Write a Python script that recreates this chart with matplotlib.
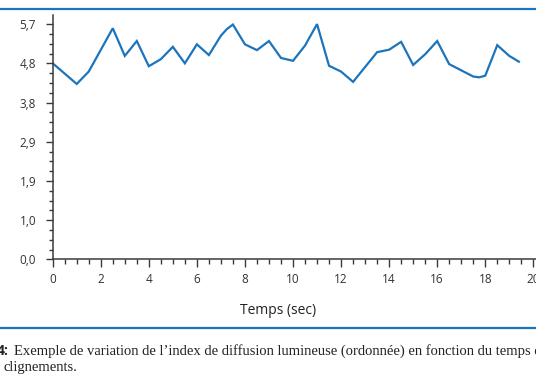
import matplotlib
matplotlib.use("Agg")
import matplotlib.pyplot as plt
from matplotlib.lines import Line2D
from matplotlib.ticker import FixedLocator, MultipleLocator

# Data
time_s = [0.0, 1.0, 1.5, 2.5, 3.0, 3.5, 4.0, 4.5, 5.0, 5.5, 6.0, 6.5, 7.0, 7.25, 7.5,
          8.0, 8.5, 9.0, 9.5, 10.0, 10.5, 11.0, 11.5, 12.0, 12.5, 13.5, 14.0, 14.5,
          15.0, 15.5, 16.0, 16.5, 17.5, 17.75, 18.0, 18.5, 19.0, 19.4]
index_values = [4.75, 4.25, 4.55, 5.60, 4.93, 5.29, 4.68, 4.85, 5.15, 4.75, 5.21, 4.95,
                5.42, 5.58, 5.69, 5.21, 5.07, 5.29, 4.88, 4.81, 5.18, 5.70, 4.69, 4.55,
                4.30, 5.02, 5.08, 5.27, 4.71, 4.97, 5.29, 4.73, 4.43, 4.41, 4.45, 5.19,
                4.93, 4.79]
y_ticks = [0.0, 0.95, 1.9, 2.85, 3.8, 4.75, 5.7]
y_tick_labels = ["0,0", "1,0", "1,9", "2,9", "3,8", "4,8", "5,7"]
x_ticks = [0, 2, 4, 6, 8, 10, 12, 14, 16, 18, 20]
x_tick_labels = ["0", "2", "4", "6", "8", "10", "12", "14", "16", "18", "20"]
x_label = "Temps (sec)"
caption_num = "4:"
caption_line1 = "Exemple de variation de l\u2019index de diffusion lumineuse (ordonnée) en fonction du temps et des"
caption_line2 = "clignements."

W, H = 536, 386
fig = plt.figure(figsize=(W / 100, H / 100), dpi=100)
fig.patch.set_facecolor("white")

blue = "#1c75bc"
dark = "#3a3a3a"
sans = ["Open Sans", "DejaVu Sans"]
serif = ["Liberation Serif", "DejaVu Serif"]

ax = fig.add_axes([52.7 / W, 1 - 259.3 / H, 1 - 52.7 / W, (259.3 - 15) / H])
ax.plot(time_s, index_values, color=blue, lw=1.6, solid_joinstyle="miter")
ax.set_xlim(0, (W - 52.7) / 24.03)
ax.set_ylim(0, (259.3 - 15) / 41.26)

for s in ["top", "right"]:
    ax.spines[s].set_visible(False)
for s in ["left", "bottom"]:
    ax.spines[s].set_color(dark)
    ax.spines[s].set_linewidth(1.1)

ax.yaxis.set_major_locator(FixedLocator(y_ticks))
ax.set_yticklabels(y_tick_labels)
ax.yaxis.set_minor_locator(MultipleLocator(0.95 / 4))
ax.xaxis.set_major_locator(FixedLocator(x_ticks))
ax.set_xticklabels(x_tick_labels)
ax.xaxis.set_minor_locator(MultipleLocator(0.5))

ax.tick_params(axis="y", which="major", length=5, width=1.0, color=dark, pad=7,
               labelsize=8.5, labelcolor="#333333")
ax.tick_params(axis="y", which="minor", length=3, width=1.0, color=dark)
ax.tick_params(axis="x", which="major", length=6, width=1.0, color=dark, pad=4,
               labelsize=8.5, labelcolor="#333333")
ax.tick_params(axis="x", which="minor", length=3.5, width=1.0, color=dark)
for lab in ax.get_xticklabels() + ax.get_yticklabels():
    lab.set_family(sans)

ax.set_xlabel(x_label, fontsize=10, family=sans, color="#222222", labelpad=14)
ax.xaxis.set_label_coords((278 - 52.7) / (W - 52.7), -(310 - 259.3) / (259.3 - 15))
ax.xaxis.label.set_va("center")

# Decorative rules
fig.add_artist(Line2D([0, 1], [1 - 9.3 / H, 1 - 9.3 / H], color=blue, lw=1.6,
                      transform=fig.transFigure))
fig.add_artist(Line2D([0, 1], [1 - 328 / H, 1 - 328 / H], color=blue, lw=1.6,
                      transform=fig.transFigure))

# Caption
fig.text(-3 / W, 1 - 351 / H, caption_num, fontsize=10, family=sans, weight="bold",
         color="#222222", va="center", ha="left")
fig.text(14 / W, 1 - 351 / H, caption_line1, fontsize=10.5, family=serif,
         color="#222222", va="center", ha="left")
fig.text(3 / W, 1 - 367 / H, caption_line2, fontsize=10.5, family=serif,
         color="#222222", va="center", ha="left")

fig.savefig("out.png", dpi=100, facecolor="white")
